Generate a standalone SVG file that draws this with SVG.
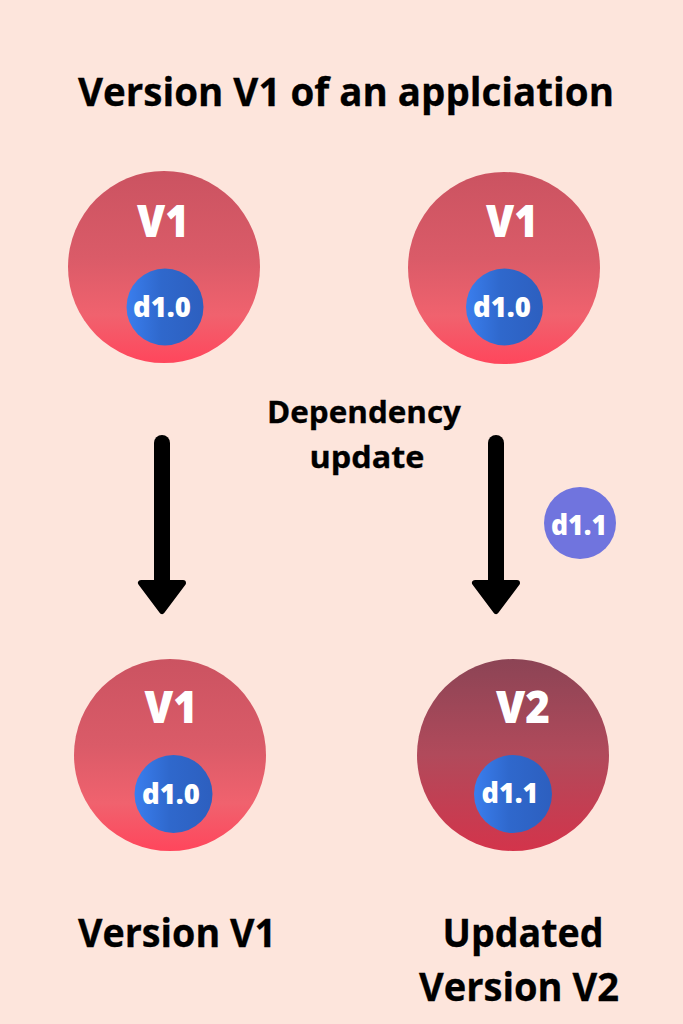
<svg xmlns="http://www.w3.org/2000/svg" width="683" height="1024" viewBox="0 0 683 1024">
<defs>
<linearGradient id="gRed" x1="0" y1="0" x2="0" y2="1">
<stop offset="0" stop-color="#cb5361"/>
<stop offset="0.45" stop-color="#da5b68"/>
<stop offset="0.75" stop-color="#f0626e"/>
<stop offset="1" stop-color="#ff465c"/>
</linearGradient>
<linearGradient id="gDark" x1="0" y1="0" x2="0" y2="1">
<stop offset="0" stop-color="#8c4455"/>
<stop offset="0.5" stop-color="#b14a5b"/>
<stop offset="1" stop-color="#d3344b"/>
</linearGradient>
<linearGradient id="gBlue" x1="0" y1="0" x2="1" y2="0">
<stop offset="0" stop-color="#3a7eee"/>
<stop offset="0.45" stop-color="#2f68cc"/>
<stop offset="1" stop-color="#2d5fbf"/>
</linearGradient>
</defs>
<style>
.t{font-family:"Open Sans","Noto Sans","Liberation Sans",sans-serif;font-weight:700;}
.blk{fill:#000;stroke:#000;stroke-width:0.3;}
.wht{fill:#fff;font-weight:800;}
.big{font-size:39px;}
.vlab{font-size:45px;}
.dlab{font-size:28px;}
.arrow-shaft{stroke:#000;stroke-width:16;stroke-linecap:round;fill:none;}
.arrow-head{fill:#000;stroke:#000;stroke-width:6;stroke-linejoin:round;}
</style>
<rect width="683" height="1024" fill="#fde5dc"/>
<text id="title" class="t blk big" x="346" y="106" text-anchor="middle" textLength="536" lengthAdjust="spacingAndGlyphs">Version V1 of an applciation</text>

<g id="node-tl">
<circle cx="164" cy="267" r="96" fill="url(#gRed)"/>
<text class="t wht vlab" x="163" y="237" text-anchor="middle" textLength="52" lengthAdjust="spacingAndGlyphs">V1</text>
<circle cx="165" cy="307" r="38.5" fill="url(#gBlue)"/>
<text class="t wht dlab" x="162" y="317" text-anchor="middle" textLength="58" lengthAdjust="spacingAndGlyphs">d1.0</text>
</g>
<g id="node-tr">
<circle cx="504" cy="268" r="96" fill="url(#gRed)"/>
<text class="t wht vlab" x="512" y="237" text-anchor="middle" textLength="52" lengthAdjust="spacingAndGlyphs">V1</text>
<circle cx="504.5" cy="307" r="38.5" fill="url(#gBlue)"/>
<text class="t wht dlab" x="502" y="317" text-anchor="middle" textLength="58" lengthAdjust="spacingAndGlyphs">d1.0</text>
</g>
<g id="node-bl">
<circle cx="170" cy="755" r="96" fill="url(#gRed)"/>
<text class="t wht vlab" x="171" y="723" text-anchor="middle" textLength="53" lengthAdjust="spacingAndGlyphs">V1</text>
<circle cx="173.5" cy="794" r="39" fill="url(#gBlue)"/>
<text class="t wht dlab" x="171" y="804" text-anchor="middle" textLength="58" lengthAdjust="spacingAndGlyphs">d1.0</text>
</g>
<g id="node-br">
<circle cx="513" cy="755" r="96" fill="url(#gDark)"/>
<text class="t wht vlab" x="523" y="723" text-anchor="middle" textLength="54" lengthAdjust="spacingAndGlyphs">V2</text>
<circle cx="513" cy="794" r="39" fill="url(#gBlue)"/>
<text class="t wht dlab" x="510" y="803" text-anchor="middle" textLength="57" lengthAdjust="spacingAndGlyphs">d1.1</text>
</g>
<g id="node-d11">
<circle cx="580" cy="523" r="36" fill="#7074de"/>
<text class="t wht dlab" x="579" y="535" text-anchor="middle" textLength="56" lengthAdjust="spacingAndGlyphs">d1.1</text>
</g>

<g id="connectors">
<line class="arrow-shaft" x1="162" y1="443" x2="162" y2="585"/>
<polygon class="arrow-head" points="141,583 183,583 162,611"/>
<line class="arrow-shaft" x1="496" y1="443" x2="496" y2="585"/>
<polygon class="arrow-head" points="475,583 517,583 496,611"/>
</g>

<g id="label-dep">
<text class="t blk" font-size="30" x="364" y="423" text-anchor="middle" textLength="194" lengthAdjust="spacingAndGlyphs">Dependency</text>
<text class="t blk" font-size="30" x="367" y="468" text-anchor="middle" textLength="115" lengthAdjust="spacingAndGlyphs">update</text>
</g>

<g id="label-bottom">
<text class="t blk big" x="177" y="947" text-anchor="middle" textLength="198" lengthAdjust="spacingAndGlyphs">Version V1</text>
<text class="t blk big" x="523" y="947" text-anchor="middle" textLength="161" lengthAdjust="spacingAndGlyphs">Updated</text>
<text class="t blk big" x="519" y="1001" text-anchor="middle" textLength="200" lengthAdjust="spacingAndGlyphs">Version V2</text>
</g>
</svg>
